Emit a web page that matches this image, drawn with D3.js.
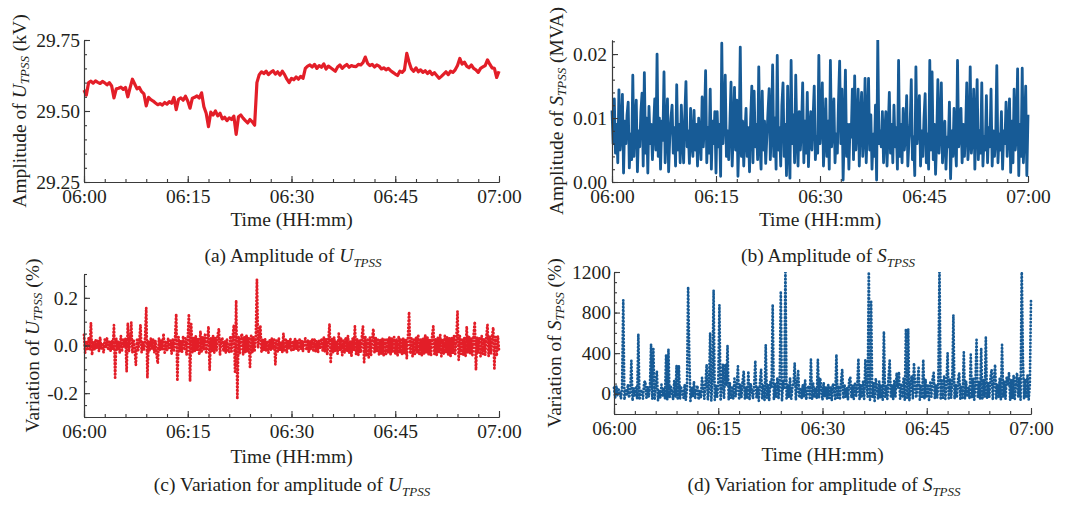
<!DOCTYPE html>
<html>
<head>
<meta charset="utf-8">
<script src="https://cdn.jsdelivr.net/npm/d3@7"></script>
<style>
  body { margin: 0; background: #fff; }
  svg text { font-family: "Liberation Serif", "Times New Roman", serif; font-size: 19.5px; fill: #231f20; }
  .axis path, .axis line { stroke: #3a3a3a; stroke-width: 1.1; }
</style>
</head>
<body>
<div id="chart"></div>
<script>
var svgWidth = 1075;
var svgHeight = 505;

// (a) amplitude of U_TPSS in kV, one reading every 20 s from 06:00 to 07:00
var uAmp = [
  29.574, 29.556, 29.600, 29.605, 29.598, 29.606, 29.601, 29.597, 29.604, 29.599, 29.592, 29.600, 29.588, 29.546, 29.578,
  29.580, 29.584, 29.576, 29.583, 29.550, 29.582, 29.612, 29.595, 29.578, 29.583, 29.568, 29.560, 29.518, 29.548, 29.540,
  29.535, 29.528, 29.522, 29.526, 29.521, 29.530, 29.524, 29.533, 29.527, 29.548, 29.505, 29.541, 29.546, 29.538, 29.552,
  29.535, 29.510, 29.545, 29.548, 29.553, 29.546, 29.564, 29.515, 29.492, 29.445, 29.496, 29.486,
  29.500, 29.483, 29.492, 29.472, 29.478, 29.466, 29.476, 29.470, 29.482, 29.418, 29.480, 29.486,
  29.475, 29.466, 29.458, 29.470, 29.462, 29.450,
  29.600, 29.628, 29.638, 29.632, 29.640, 29.628, 29.636, 29.642, 29.630, 29.638, 29.626, 29.640,
  29.628, 29.612, 29.600, 29.615, 29.610, 29.620, 29.612, 29.622, 29.615,
  29.650, 29.658, 29.662, 29.655, 29.664, 29.650, 29.660, 29.654, 29.666, 29.648, 29.658, 29.652,
  29.646, 29.640, 29.655, 29.662, 29.650, 29.658, 29.664, 29.654, 29.660, 29.657, 29.656, 29.664,
  29.662, 29.670, 29.690,
  29.668, 29.660, 29.664, 29.655, 29.662, 29.658, 29.648, 29.652, 29.645, 29.650, 29.642, 29.636,
  29.630, 29.625, 29.640, 29.636, 29.645, 29.703,
  29.672, 29.648, 29.640, 29.652, 29.638, 29.645, 29.636, 29.642, 29.632, 29.640, 29.628, 29.635,
  29.625, 29.615, 29.622, 29.630, 29.638, 29.628, 29.640, 29.636, 29.645, 29.660, 29.685,
  29.665, 29.672, 29.658, 29.652, 29.662, 29.650, 29.645, 29.636, 29.650, 29.655, 29.660, 29.680,
  29.665, 29.652, 29.650, 29.618, 29.640
];

// (b) amplitude of S_TPSS in 1e-3 MVA, one reading every 10 s (one row per minute)
var sAmp = [
  11.2, 6.0, 13.0, 4.5, 9.0, 3.0,
  14.4, 5.0, 8.0, 13.7, 1.4, 9.5,
  6.0, 10.5, 12.5, 2.2, 7.5, 3.5,
  16.7, 4.0, 9.0, 12.8, 1.6, 8.0,
  5.5, 11.0, 13.9, 2.5, 17.1, 4.5,
  10.0, 1.4, 11.8, 6.0, 9.0, 3.5,
  8.5, 13.0, 5.0, 20.0, 4.0, 10.0,
  2.0, 9.5, 6.5, 17.2, 3.0, 8.0,
  13.0, 1.6, 7.0, 10.0, 12.0, 4.5,
  8.5, 2.5, 15.2, 5.0, 9.0, 3.0,
  12.0, 6.5, 3.0, 10.5, 15.7, 5.5,
  8.0, 2.9, 11.5, 6.0, 4.0, 11.2,
  5.0, 9.0, 2.5, 10.0, 7.0, 3.5,
  13.3, 5.5, 9.0, 17.4, 3.0, 8.5,
  4.5, 14.5, 2.0, 9.5, 6.0, 11.0,
  1.4, 11.0, 5.5, 9.0, 0.9, 21.7,
  6.0, 10.0, 16.7, 4.0, 8.0, 3.5,
  9.0, 15.6, 2.5, 8.0, 14.8, 5.0,
  12.8, 0.9, 7.5, 21.1, 4.0, 9.5,
  2.5, 7.5, 11.5, 4.0, 8.5, 1.6,
  10.0, 15.0, 3.0, 14.2, 5.5, 9.0,
  3.5, 18.0, 6.0, 2.0, 14.2, 5.0,
  9.5, 2.9, 7.0, 11.0, 14.6, 3.5,
  8.0, 18.3, 4.0, 10.0, 2.0, 19.8,
  5.0, 8.5, 2.5, 12.0, 15.5, 4.0,
  9.0, 1.0, 15.0, 5.5, 0.6, 19.0,
  6.0, 10.5, 3.0, 16.7, 7.0, 2.5,
  11.0, 5.0, 8.5, 15.5, 3.0, 9.5,
  4.5, 14.0, 2.4, 8.0, 11.0, 5.0,
  10.0, 15.0, 3.5, 7.0, 4.5, 19.8,
  6.0, 9.0, 15.5, 2.5, 7.0, 13.0,
  4.0, 9.5, 2.0, 19.0, 5.5, 8.0,
  13.0, 3.0, 7.5, 4.5, 12.5, 18.9,
  6.0, 14.5, 0.3, 8.0, 17.5, 4.0,
  9.0, 2.0, 9.0, 7.0, 14.5, 3.5,
  16.6, 5.0, 8.5, 14.5, 2.5, 10.0,
  14.0, 4.0, 7.0, 16.2, 3.0, 9.0,
  16.2, 5.0, 10.5, 2.0, 7.5, 4.0,
  12.0, 0.3, 22.2, 6.0, 8.0, 5.5,
  11.0, 3.0, 7.5, 11.0, 2.5, 8.0,
  14.0, 4.5, 9.0, 3.0, 12.0, 5.5,
  8.5, 2.0, 19.0, 4.0, 9.0, 3.0,
  11.5, 5.0, 7.5, 13.5, 2.5, 6.5,
  9.0, 16.0, 3.5, 7.0, 1.0, 18.0,
  6.0, 9.5, 13.5, 2.5, 8.0, 4.0,
  10.0, 13.8, 3.0, 7.5, 2.0, 19.0,
  5.0, 17.2, 3.5, 9.0, 1.2, 7.0,
  16.0, 4.5, 8.0, 15.5, 3.0, 6.5,
  9.5, 2.0, 7.0, 5.5, 12.5, 0.5,
  8.0, 4.0, 11.5, 6.0, 2.5, 19.0,
  5.5, 7.5, 11.5, 3.0, 9.0, 4.0,
  8.0, 15.5, 3.5, 6.5, 18.0, 4.5,
  7.0, 14.5, 2.0, 9.5, 16.0, 3.5,
  8.0, 4.5, 15.5, 2.5, 7.0, 5.0,
  13.5, 3.0, 8.5, 5.5, 14.5, 2.5,
  8.0, 4.0, 6.5, 18.2, 3.0, 7.5,
  5.0, 11.0, 2.0, 8.0, 6.0, 12.5,
  4.0, 8.5, 13.0, 1.5, 9.5, 3.0,
  14.5, 5.0, 7.5, 17.7, 1.0, 9.0,
  4.0, 17.8, 3.0, 8.0, 15.0, 1.0,
  10.5
];

// (c) variation for amplitude of U_TPSS in %, every 10 s
var uVar = [
  0.045, -0.03, 0.02, -0.015, 0.03, -0.02,
  0.095, -0.04, 0.015, -0.02, 0.025, -0.01,
  0.02, -0.025, 0.035, -0.015, 0.01, -0.03,
  0.025, -0.01, 0.03, -0.02, 0.015, -0.025,
  0.02, -0.015, 0.085, -0.135, 0.03, -0.02,
  0.015, -0.03, 0.04, -0.02, 0.025, -0.01,
  0.03, -0.11, 0.094, -0.025, 0.02, 0.097,
  -0.03, 0.025, -0.015, -0.082, 0.03, -0.02,
  0.02, 0.087, -0.03, 0.015, -0.02, 0.035,
  0.158, -0.135, 0.02, -0.025, 0.03, -0.015,
  0.025, -0.03, 0.02, -0.04, -0.075, 0.03,
  -0.02, 0.025, -0.015, 0.05, -0.03, 0.02,
  -0.025, 0.03, -0.01, 0.02, -0.035, 0.025,
  -0.02, 0.03, 0.132, -0.149, 0.035, -0.025,
  0.02, -0.03, 0.04, -0.02, 0.03, -0.04,
  0.025, 0.132, -0.15, 0.09, -0.03, 0.035,
  -0.025, 0.04, -0.02, 0.03, -0.04, 0.06,
  -0.03, 0.035, -0.02, 0.045, -0.035, 0.02,
  0.08, -0.103, 0.03, -0.025, 0.04, -0.03,
  0.035, -0.02, 0.045, 0.07, -0.04, 0.03,
  0.03, -0.025, 0.02, -0.03, 0.025, -0.02,
  -0.03, 0.04, -0.025, 0.035, 0.087, -0.11,
  0.189, -0.225, 0.04, -0.035, 0.03, 0.05,
  -0.04, 0.035, -0.03, 0.045, -0.025, 0.03,
  -0.09, 0.04, -0.03, 0.035, -0.02, 0.03,
  0.277, -0.01, 0.03, 0.08, -0.03, 0.025,
  -0.02, 0.03, -0.025, 0.02, -0.03, 0.025,
  -0.02, 0.03, -0.015, 0.025, -0.08, 0.02,
  -0.025, 0.03, -0.02, 0.015, -0.03, 0.05,
  -0.02, 0.025, -0.03, 0.02, -0.015, 0.03,
  -0.025, 0.02, -0.02, 0.03, -0.015, 0.02,
  -0.02, 0.025, -0.015, 0.02, -0.025, 0.015,
  0.03, -0.02, 0.025, -0.03, 0.02, -0.015,
  0.025, -0.02, 0.03, -0.025, 0.02, -0.03,
  0.02, -0.015, 0.03, -0.02, 0.035, -0.025,
  0.03, -0.04, 0.025, 0.09, -0.075, 0.03,
  -0.03, 0.035, -0.025, 0.02, -0.035, 0.05,
  -0.02, 0.03, -0.04, 0.025, -0.03, 0.035,
  -0.025, 0.04, -0.03, 0.02, -0.045, 0.03,
  -0.02, 0.08, -0.035, 0.03, -0.04, 0.025,
  -0.03, 0.035, 0.08, -0.07, 0.04, -0.045,
  0.03, -0.05, 0.035, -0.04, 0.025, 0.07,
  -0.03, 0.035, -0.025, 0.03, -0.04, 0.025,
  -0.035, 0.03, -0.045, 0.03, -0.035, 0.025,
  -0.03, 0.035, -0.04, 0.03, -0.025, 0.035,
  -0.035, 0.025, -0.045, 0.04, -0.03, 0.025,
  -0.04, 0.03, -0.035, 0.025, -0.055, 0.035,
  0.141, -0.035, 0.03, -0.045, 0.025, -0.035,
  0.035, -0.03, 0.04, -0.04, 0.025, -0.045,
  0.03, -0.035, 0.045, -0.03, 0.035, -0.04,
  0.025, -0.045, 0.04, 0.08, -0.035, 0.03,
  -0.04, 0.035, -0.03, 0.045, -0.045, 0.025,
  -0.035, 0.04, -0.03, 0.035, -0.04, 0.03,
  -0.045, 0.035, -0.03, 0.04, -0.035, 0.025,
  0.144, -0.06, 0.04, -0.035, 0.03, -0.04,
  0.035, -0.045, 0.08, -0.03, 0.04, -0.035,
  0.03, -0.04, 0.045, 0.10, -0.103, 0.035,
  -0.03, 0.035, -0.045, 0.04, -0.035, 0.03,
  -0.04, 0.035, 0.087, -0.045, 0.04, -0.035,
  0.04, 0.076, -0.096, 0.035, -0.045, 0.04,
  -0.02
];

// (d) variation for amplitude of S_TPSS in %, every 10 s (peaks above 1200 run off the frame)
var sVar = [
  60, -40, 80, -20, 40, 10,
  -50, 70, 922, -60, 30, -20,
  90, -40, 20, 326, -70, 50,
  -30, 60, -50, 587, -60, 40,
  20, -50, 110, 124, -40, 70,
  -30, 60, 489, -50, 440, -60,
  80, 222, -70, 30, -40, 90,
  -20, 60, -50, 385, -60, 440,
  -40, 70, 20, -60, 130, -30,
  277, -60, 277, -50, 60, 20,
  -40, 90, -60, 50, 1053, 385,
  -70, 60, -30, 120, -50, 40,
  80, -60, 30, -40, 156, 60,
  -50, 110, 287, -60, 50, 597,
  -70, 140, 1020, -60, 80, -40,
  100, 874, -70, 60, 287, -50,
  293, 80, 476, -60, 110, -40,
  60, -50, 150, -30, 80, 270,
  -60, 90, -40, 120, 222, -50,
  70, -40, 222, -60, 100, 30,
  -50, 80, 326, -40, 60, -70,
  110, 238, -50, 80, -60, 482,
  -40, 90, -70, 120, 60, 880,
  -60, 100, -30, 160, -50, 80,
  1010, -70, 120, 60, 1250, -60,
  90, -40, 150, -50, 60, 100,
  303, -60, 80, 222, -40, 60,
  -50, 90, -30, 130, -60, 40,
  80, -40, 336, -60, 100, -30,
  60, -50, 336, -40, 156, 50,
  -60, 110, -30, 70, -50, 90,
  -40, 60, -70, 100, 30, -50,
  385, -40, 80, -60, 120, 238,
  -50, 90, -30, 60, -60, 130,
  163, -40, 80, -50, 110, -30,
  60, 346, -60, 90, -40, 120,
  -50, 336, 80, -30, 1250, -60,
  906, -40, 110, -70, 150, 60,
  -50, 120, -40, 90, -60, 613,
  -30, 80, -50, 160, 326, -40,
  90, -60, 130, -30, 205, 60,
  215, -50, 100, -40, 150, -60,
  639, -40, 639, -70, 90, 180,
  -50, 303, 60, -40, 120, 254,
  -60, 90, -30, 336, -50, 140,
  -40, 80, -60, 110, -30, 150,
  205, -50, 90, -40, 120, 1250,
  -60, 130, -40, 180, -50, 90,
  401, -60, 150, -40, 110, 776,
  -50, 90, -40, 140, 205, -60,
  80, -40, 408, -50, 120, -30,
  60, -50, 385, -40, 150, -60,
  90, 531, -40, 120, -50, 450,
  -60, 140, -30, 554, -50, 110,
  -40, 160, 238, -60, 130, 287,
  -50, 100, -40, 150, -60, 482,
  -30, 120, -50, 160, 80, 205,
  -60, 140, -40, 180, -50, 120,
  205, -30, 160, -60, 1250, 352,
  -50, 140, -40, 180, -60, 90,
  922
];

// y tick labels of each panel
var uAmpTicks = [29.25, 29.50, 29.75];
var sAmpTicks = [0, 10, 20];
var uVarTicks = [-0.2, 0.0, 0.2];
var sVarTicks = [0, 400, 800, 1200];

var red = "#e31e28";
var blue = "#175b96";

var t0 = new Date(2020, 0, 1, 6, 0, 0);
var t1 = new Date(2020, 0, 1, 7, 0, 0);

var svg = d3.select("#chart")
  .append("svg")
  .attr("width", svgWidth)
  .attr("height", svgHeight);

// spread the readings evenly over the hour
function withTimes(values) {
  var step = (t1 - t0) / (values.length - 1);
  return values.map((v, i) => ({ t: new Date(+t0 + i * step), v: v }));
}

// text with italic symbol and italic subscript
function richText(sel, parts) {
  parts.forEach(function(p) {
    var ts = sel.append("tspan").text(p.text);
    if (p.italic) ts.attr("font-style", "italic");
    if (p.sub) ts.style("font-size", "13px").attr("dy", 5);
    if (p.back) ts.attr("dy", -5);
  });
}

function label(before, sym, after) {
  var parts = [{ text: before }, { text: sym, italic: true }, { text: "TPSS", italic: true, sub: true }];
  if (after) parts.push({ text: after, back: true });
  return parts;
}

var panels = [
  {
    id: "a", left: 84, right: 499, top: 40, bottom: 182,
    values: uAmp, yDomain: [29.25, 29.75], yTicks: uAmpTicks,
    yMinor: d3.range(29.25, 29.76, 0.05), yFormat: d => d.toFixed(2), yPad: 4,
    color: red, width: 3.2, dash: null,
    yTitle: label("Amplitude of ", "U", " (kV)"), yTitleX: 19,
    caption: label("(a) Amplitude of ", "U"), captionX: 293, captionY: 262, xTitleY: 226
  },
  {
    id: "b", left: 612, right: 1028, top: 40, bottom: 182,
    values: sAmp, yDomain: [0, 22.2], yTicks: sAmpTicks,
    yMinor: d3.range(0, 22.1, 2), yFormat: d => (d / 1000).toFixed(2), yPad: 5,
    color: blue, width: 2.8, dash: null,
    yTitle: label("Amplitude of ", "S", " (MVA)"), yTitleX: 556,
    caption: label("(b) Amplitude of ", "S"), captionX: 828, captionY: 262, xTitleY: 226
  },
  {
    id: "c", left: 84, right: 499, top: 274, bottom: 417,
    values: uVar, yDomain: [-0.3, 0.3], yTicks: uVarTicks,
    yMinor: d3.range(-0.3, 0.31, 0.05), yFormat: d => d.toFixed(1), yPad: 6,
    color: red, width: 2.8, dash: "0.5,3",
    yTitle: label("Variation of ", "U", " (%)"), yTitleX: 32,
    caption: label("(c) Variation for amplitude of ", "U"), captionX: 292, captionY: 491, xTitleY: 463
  },
  {
    id: "d", left: 614, right: 1031, top: 272, bottom: 414,
    values: sVar, yDomain: [-200, 1200], yTicks: sVarTicks,
    yMinor: d3.range(-200, 1201, 100), yFormat: d => String(d), yPad: 3,
    color: blue, width: 2.7, dash: "0.5,3",
    yTitle: label("Variation of ", "S", " (%)"), yTitleX: 554,
    caption: label("(d) Variation for amplitude of ", "S"), captionX: 824, captionY: 491, xTitleY: 461
  }
];

var xMinor = d3.timeMinute.every(3).range(t0, new Date(+t1 + 1));
var xMajor = d3.timeMinute.every(15).range(t0, new Date(+t1 + 1));

panels.forEach(function(p) {
  var x = d3.scaleTime().domain([t0, t1]).range([p.left, p.right]);
  var y = d3.scaleLinear().domain(p.yDomain).range([p.bottom, p.top]);
  var g = svg.append("g").attr("class", "panel-" + p.id);

  svg.append("clipPath").attr("id", "clip-" + p.id)
    .append("rect")
    .attr("x", p.left - 2).attr("y", p.top)
    .attr("width", p.right - p.left + 4).attr("height", p.bottom - p.top);

  var line = d3.line().x(d => x(d.t)).y(d => y(d.v));

  g.append("path")
    .datum(withTimes(p.values))
    .attr("clip-path", "url(#clip-" + p.id + ")")
    .attr("fill", "none")
    .attr("stroke", p.color)
    .attr("stroke-width", p.width)
    .attr("stroke-linejoin", "round")
    .attr("stroke-linecap", p.dash ? "round" : "butt")
    .attr("stroke-dasharray", p.dash)
    .attr("d", line);

  // x axis: minor ticks every 3 min, labelled ticks every 15 min, all pointing inward
  g.append("g").attr("class", "axis")
    .attr("transform", `translate(0, ${p.bottom})`)
    .call(d3.axisBottom(x).tickValues(xMinor).tickSize(-3).tickSizeOuter(0).tickFormat(""));
  g.append("g").attr("class", "axis")
    .attr("transform", `translate(0, ${p.bottom})`)
    .call(d3.axisBottom(x).tickValues(xMajor).tickSize(-6).tickSizeOuter(0)
      .tickPadding(7).tickFormat(d3.timeFormat("%H:%M")));

  // y axis
  g.append("g").attr("class", "axis")
    .attr("transform", `translate(${p.left}, 0)`)
    .call(d3.axisLeft(y).tickValues(p.yMinor).tickSize(-3).tickSizeOuter(0).tickFormat(""));
  g.append("g").attr("class", "axis")
    .attr("transform", `translate(${p.left}, 0)`)
    .call(d3.axisLeft(y).tickValues(p.yTicks).tickSize(-6).tickSizeOuter(0)
      .tickPadding(p.yPad).tickFormat(p.yFormat));

  g.append("text")
    .attr("x", (p.left + p.right) / 2)
    .attr("y", p.xTitleY)
    .attr("text-anchor", "middle")
    .text("Time (HH:mm)");

  var yt = g.append("text")
    .attr("transform", `translate(${p.yTitleX}, ${(p.top + p.bottom) / 2}) rotate(-90)`)
    .attr("text-anchor", "middle")
    .attr("dominant-baseline", "central");
  richText(yt, p.yTitle);

  var cap = g.append("text")
    .attr("x", p.captionX)
    .attr("y", p.captionY)
    .attr("text-anchor", "middle");
  richText(cap, p.caption);
});
</script>
</body>
</html>
